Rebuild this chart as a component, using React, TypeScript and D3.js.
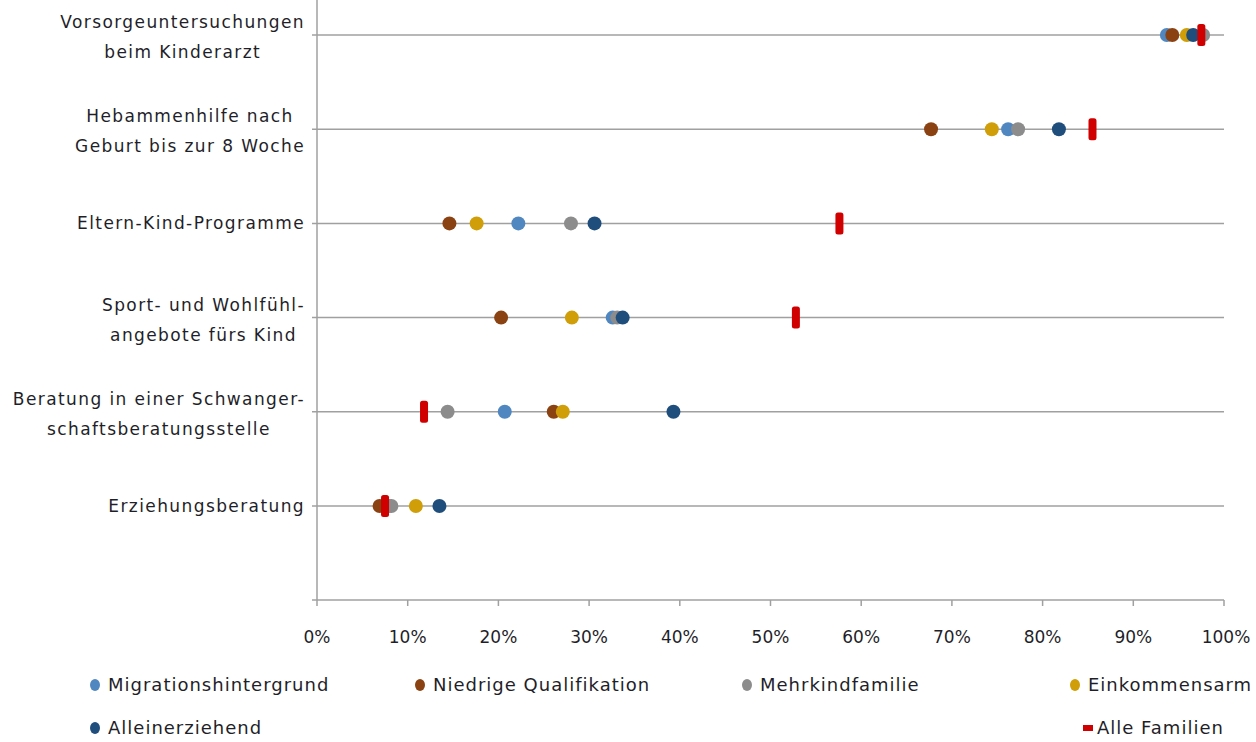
import React, { useEffect, useRef } from "react";
import * as d3 from "d3";

const categories: string[][] = [
  ["Vorsorgeuntersuchungen", "beim Kinderarzt"],
  ["Hebammenhilfe nach", "Geburt bis zur 8 Woche"],
  ["Eltern-Kind-Programme"],
  ["Sport- und Wohlfühl-", "angebote fürs Kind"],
  ["Beratung in einer Schwanger-", "schaftsberatungsstelle"],
  ["Erziehungsberatung"],
];

const seriesNames = [
  "Migrationshintergrund",
  "Niedrige Qualifikation",
  "Mehrkindfamilie",
  "Einkommensarm",
  "Alleinerziehend",
  "Alle Familien",
];
const seriesColors = ["#5087C0", "#8B4213", "#8C8C8C", "#D09E08", "#1F4E7D", "#D00000"];

const migration = [93.7, 76.2, 22.2, 32.6, 20.7, 7.9];
const niedrig = [94.3, 67.7, 14.6, 20.3, 26.1, 6.9];
const mehrkind = [97.7, 77.3, 28.0, 33.1, 14.4, 8.2];
const einkommen = [95.9, 74.4, 17.6, 28.1, 27.1, 10.9];
const allein = [96.6, 81.8, 30.6, 33.7, 39.3, 13.5];
const alle = [97.5, 85.5, 57.6, 52.8, 11.8, 7.5];

const seriesValues = [migration, niedrig, mehrkind, einkommen, allein, alle];
const xTicks = [0, 10, 20, 30, 40, 50, 60, 70, 80, 90, 100];

const W = 1256;
const H = 742;

export default function App() {
  const ref = useRef<SVGSVGElement | null>(null);

  useEffect(() => {
    const svg = d3.select(ref.current);
    svg.selectAll("*").remove();
    const font = "'DejaVu Sans', sans-serif";
    const left = 317, right = 1224, bottom = 600;
    const x = d3.scaleLinear().domain([0, 100]).range([left, right]);
    const rowY = d3.scaleLinear().domain([0, 5]).range([35, 506]);
    const grid = "#A0A0A0";
    const textColor = "#1f1f2a";

    // gridlines
    categories.forEach((_, i) => {
      svg.append("line")
        .attr("x1", left - 5).attr("x2", right)
        .attr("y1", rowY(i)).attr("y2", rowY(i))
        .attr("stroke", grid).attr("stroke-width", 1.5);
    });
    // y axis
    svg.append("line").attr("x1", left).attr("x2", left).attr("y1", 0).attr("y2", bottom)
      .attr("stroke", grid).attr("stroke-width", 1.5);
    svg.append("line").attr("x1", left - 5).attr("x2", left).attr("y1", bottom).attr("y2", bottom)
      .attr("stroke", grid).attr("stroke-width", 1.5);
    // x axis
    svg.append("line").attr("x1", left).attr("x2", right).attr("y1", bottom).attr("y2", bottom)
      .attr("stroke", grid).attr("stroke-width", 1.5);
    xTicks.forEach((t) => {
      svg.append("line").attr("x1", x(t)).attr("x2", x(t)).attr("y1", bottom).attr("y2", bottom + 6)
        .attr("stroke", grid).attr("stroke-width", 1.5);
      svg.append("text").attr("x", x(t) + (t === 100 ? 2 : 0)).attr("y", 643)
        .attr("text-anchor", "middle").attr("font-family", font).attr("font-size", 17)
        .attr("fill", textColor).text(`${t}%`);
    });

    // category labels
    categories.forEach((lines, i) => {
      const g = svg.append("g");
      const texts = lines.map((l, j) =>
        g.append("text")
          .attr("y", rowY(i) + 6 + (j - (lines.length - 1) / 2) * 30 + (lines.length > 1 ? 2 : 0))
          .attr("font-family", font).attr("font-size", 17)
          .attr("letter-spacing", 1.4)
          .attr("fill", textColor).text(l)
      );
      const widths = texts.map((t) => (t.node() as SVGTextElement).getComputedTextLength());
      const maxW = Math.max(...widths);
      const cx = 305 - maxW / 2;
      texts.forEach((t) => t.attr("x", cx).attr("text-anchor", "middle"));
    });

    // dots
    for (let s = 0; s < 5; s++) {
      seriesValues[s].forEach((v, i) => {
        svg.append("circle").attr("cx", x(v)).attr("cy", rowY(i)).attr("r", 7)
          .attr("fill", seriesColors[s]);
      });
    }
    alle.forEach((v, i) => {
      svg.append("rect").attr("x", x(v) - 4).attr("y", rowY(i) - 11)
        .attr("width", 8).attr("height", 22).attr("rx", 2.5)
        .attr("fill", seriesColors[5]);
    });

    // legend
    const legendPos = [
      [95, 685], [420, 685], [747, 685], [1075, 685], [95, 728], [1088, 728],
    ];
    seriesNames.forEach((name, s) => {
      const [lx, ly] = legendPos[s];
      if (s < 5) {
        svg.append("ellipse").attr("cx", lx).attr("cy", ly).attr("rx", 5).attr("ry", 6)
          .attr("fill", seriesColors[s]);
      } else {
        svg.append("rect").attr("x", lx - 5).attr("y", ly - 3).attr("width", 10).attr("height", 6)
          .attr("fill", seriesColors[s]);
      }
      svg.append("text").attr("x", lx + (s < 5 ? 13 : 9)).attr("y", ly + 6)
        .attr("font-family", font).attr("font-size", 18).attr("fill", textColor)
        .attr("letter-spacing", 1)
        .text(name);
    });
  }, []);

  return (
    <svg ref={ref} width={W} height={H} style={{ position: "absolute", left: 0, top: 0, background: "#fff" }} />
  );
}
